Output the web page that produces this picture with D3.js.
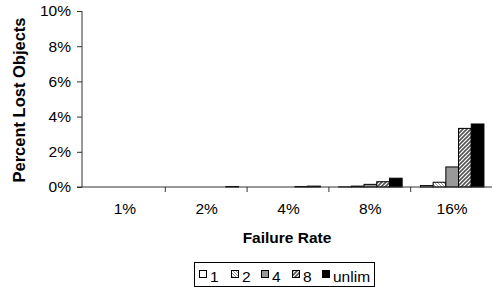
<!DOCTYPE html>
<html><head><meta charset="utf-8">
<script src="https://cdn.jsdelivr.net/npm/d3@7"></script>
<style>body{margin:0;background:#fff}svg{display:block;font-family:"Liberation Sans",Arial,sans-serif}</style>
</head><body>
<svg id="c" width="492" height="287"></svg>
<script>
const categories = ["1%","2%","4%","8%","16%"];
const seriesNames = ["1","2","4","8","unlim"];
const s1 = [0, 0, 0, 0.01, 0.08];
const s2 = [0, 0, 0, 0.05, 0.27];
const s4 = [0, 0, 0, 0.15, 1.14];
const s8 = [0, 0, 0.03, 0.3, 3.33];
const sUnlim = [0, 0.03, 0.05, 0.5, 3.58];
const yTicks = [0, 2, 4, 6, 8, 10];
const seriesValues = [s1, s2, s4, s8, sUnlim];

const svg = d3.select("#c");
const defs = svg.append("defs");
function hatch(id, dir, color, sw, size) {
  const p = defs.append("pattern").attr("id", id).attr("patternUnits","userSpaceOnUse")
    .attr("width", size).attr("height", size);
  p.append("rect").attr("width", size).attr("height", size).attr("fill", "#fff");
  const d = dir > 0
    ? `M0,${size} L${size},0 M${-size/2},${size/2} L${size/2},${-size/2} M${size/2},${size*1.5} L${size*1.5},${size/2}`
    : `M0,0 L${size},${size} M${-size/2},${size/2} L${size/2},${size*1.5} M${size/2},${-size/2} L${size*1.5},${size/2}`;
  p.append("path").attr("d", d).attr("stroke", color).attr("stroke-width", sw);
}
hatch("h2", -1, "#999", 1, 3);
hatch("h8", 1, "#555", 1.6, 4);
const fills = ["#fff", "url(#h2)", "#999", "url(#h8)", "#000"];

const L = 82, R = 492, T = 11, B = 187;
const FS = 15.5;
const x = d3.scaleBand().domain(categories).range([L + 2, R + 1]).padding(0);
const xi = d3.scaleBand().domain(d3.range(seriesNames.length)).range([9.25, 72.75]).padding(0);
const y = d3.scaleLinear().domain([0, 10]).range([B, T]);

// bars
categories.forEach((c, ci) => {
  seriesValues.forEach((vals, si) => {
    const v = vals[ci];
    if (v <= 0) return;
    svg.append("rect")
      .attr("x", x(c) + xi(si)).attr("width", xi.bandwidth())
      .attr("y", y(v)).attr("height", B - y(v))
      .attr("fill", fills[si]).attr("stroke", "#000").attr("stroke-width", 1);
  });
});

// y axis
const yAxis = svg.append("g").attr("transform", `translate(${L},0)`)
  .call(d3.axisLeft(y).tickValues(yTicks).tickFormat(d => d + "%").tickSize(5).tickPadding(6));
yAxis.selectAll("text").attr("font-size", FS).attr("fill", "#000").attr("font-family", "Liberation Sans, Arial");
yAxis.selectAll("line,path").attr("stroke", "#333");
yAxis.select(".domain").attr("d", `M0,${T}V${B}`);

// x axis
svg.append("line").attr("x1", L - 5).attr("x2", R).attr("y1", B).attr("y2", B).attr("stroke", "#333");
const xAxis = svg.append("g").attr("transform", `translate(0,${B})`)
  .call(d3.axisBottom(x).tickSize(0).tickPadding(16));
xAxis.select(".domain").remove();
xAxis.selectAll("text").attr("font-size", FS).attr("fill", "#000").attr("font-family", "Liberation Sans, Arial");
svg.append("g").selectAll("line").data(categories.slice(1)).join("line")
  .attr("x1", d => x(d) - 0.5).attr("x2", d => x(d) - 0.5).attr("y1", B).attr("y2", B + 5).attr("stroke", "#333");

// titles
svg.append("text").attr("x", 287).attr("y", 243).attr("text-anchor", "middle")
  .attr("font-size", 15.5).attr("font-weight", "bold").text("Failure Rate");
svg.append("text").attr("transform", `translate(25,${(T + B) / 2 + 1}) rotate(-90)`).attr("text-anchor", "middle")
  .attr("font-size", 16.5).attr("font-weight", "bold").text("Percent Lost Objects");

// legend
const lg = svg.append("g").attr("transform", "translate(194,262)");
lg.append("rect").attr("x", 0.5).attr("y", 0.5).attr("width", 180).attr("height", 24).attr("fill", "#fff").attr("stroke", "#000");
const lx = [5, 37, 67, 98, 128];
seriesNames.forEach((n, i) => {
  lg.append("rect").attr("x", lx[i] + 0.5).attr("y", 8.5).attr("width", 7).attr("height", 7)
    .attr("fill", fills[i]).attr("stroke", "#000");
  lg.append("text").attr("x", lx[i] + 11).attr("y", 20).attr("font-size", FS).text(n);
});
</script>
</body></html>
